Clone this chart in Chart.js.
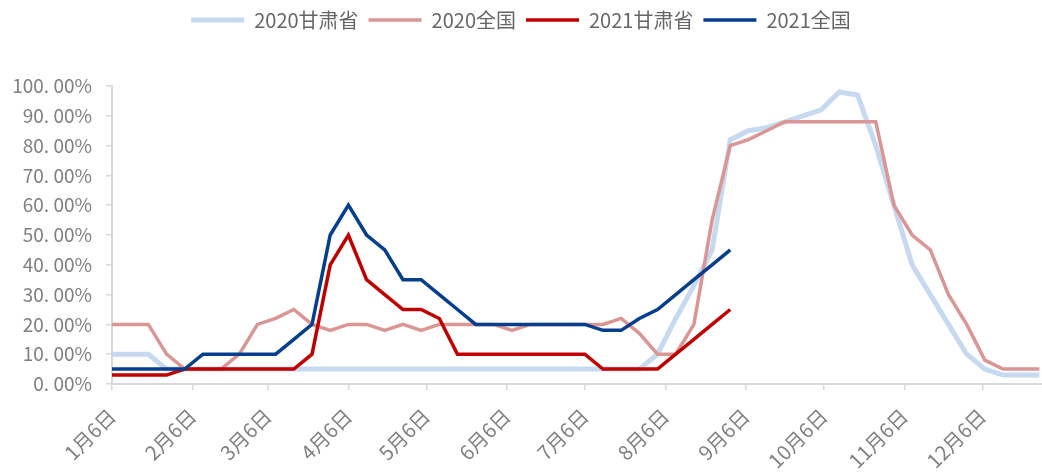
<!DOCTYPE html>
<html>
<head>
<meta charset="utf-8">
<script src="https://cdn.jsdelivr.net/npm/chart.js@4.4.1/dist/chart.umd.min.js"></script>
<style>
  html, body { margin: 0; padding: 0; background: #fff; }
  #wrap { width: 1042px; height: 476px; position: relative; }
</style>
</head>
<body>
<div id="wrap"><canvas id="c"></canvas></div>
<script>
// weekly data, week 0 = 1月6日, one point every 7 days
var seriesNames = ['2020甘肃省', '2020全国', '2021甘肃省', '2021全国'];

var gansu2020 = [10, 10, 10, 5, 5, 5, 5, 5, 5, 5, 5, 5, 5, 5, 5, 5, 5, 5, 5, 5,
  5, 5, 5, 5, 5, 5, 5, 5, 5, 5, 10, 22, 33, 45, 82, 85, 86, 88, 90, 92,
  98, 97, 80, 60, 40, 30, 20, 10, 5, 3, 3, 3];
var national2020 = [20, 20, 20, 10, 5, 5, 5, 10, 20, 22, 25, 20, 18, 20, 20, 18, 20, 18, 20, 20,
  20, 20, 18, 20, 20, 20, 20, 20, 22, 17, 10, 10, 20, 55, 80, 82, 85, 88, 88, 88,
  88, 88, 88, 60, 50, 45, 30, 20, 8, 5, 5, 5];
var gansu2021 = [3, 3, 3, 3, 5, 5, 5, 5, 5, 5, 5, 10, 40, 50, 35, 30, 25, 25, 22, 10,
  10, 10, 10, 10, 10, 10, 10, 5, 5, 5, 5, 10, 15, 20, 25];
var national2021 = [5, 5, 5, 5, 5, 10, 10, 10, 10, 10, 15, 20, 50, 60, 50, 45, 35, 35, 30, 25,
  20, 20, 20, 20, 20, 20, 20, 18, 18, 22, 25, 30, 35, 40, 45];

// month ticks (days after 1月6日)
var tickDays = [0, 31, 60, 91, 121, 152, 182, 213, 244, 274, 305, 335];
var tickLabels = ['1月6日', '2月6日', '3月6日', '4月6日', '5月6日', '6月6日',
  '7月6日', '8月6日', '9月6日', '10月6日', '11月6日', '12月6日'];

var weekDays = gansu2020.map(function(_, i) { return i * 7; });

var fontFamily = '"Noto Sans CJK SC", "Noto Sans", sans-serif';

//--------------- legend height so the plot starts at 100% line ---------------//
var legendGap = {
  id: 'legendGap',
  beforeInit: function(chart) {
    var fit = chart.legend.fit;
    chart.legend.fit = function() {
      fit.bind(chart.legend)();
      this.height = 86;
    };
  }
};

function ds(label, data, color, width, order) {
  return {
    label: label,
    data: data,
    borderColor: color,
    backgroundColor: color,
    borderWidth: width,
    pointRadius: 0,
    pointHoverRadius: 0,
    tension: 0,
    fill: false,
    order: order
  };
}

var chart = new Chart(document.getElementById('c'), {
  type: 'line',
  data: {
    labels: weekDays,
    datasets: [
      ds(seriesNames[0], gansu2020, '#c6d9f1', 5, 4),
      ds(seriesNames[1], national2020, '#da9694', 3.5, 3),
      ds(seriesNames[2], gansu2021, '#c00000', 3.5, 2),
      ds(seriesNames[3], national2021, '#053e8c', 3.5, 1)
    ]
  },
  options: {
    responsive: true,
    maintainAspectRatio: false,
    animation: false,
    layout: { padding: 0 },
    plugins: {
      tooltip: { enabled: false },
      legend: {
        position: 'top',
        labels: {
          usePointStyle: true,
          pointStyle: 'line',
          pointStyleWidth: 53,
          boxHeight: 20,
          padding: 10,
          color: '#666666',
          font: { family: fontFamily, size: 20 },
          sort: function(a, b) { return a.datasetIndex - b.datasetIndex; }
        }
      }
    },
    scales: {
      x: {
        type: 'linear',
        min: 0,
        max: 358,
        afterBuildTicks: function(scale) {
          scale.ticks = tickDays.map(function(d) { return { value: d }; });
        },
        afterFit: function(scale) { scale.height = 92; },
        grid: { drawOnChartArea: false, drawTicks: true, tickLength: 6, color: '#d9d9d9', lineWidth: 1.5 },
        border: { display: true, color: '#d9d9d9', width: 2 },
        ticks: {
          autoSkip: false,
          minRotation: 45,
          maxRotation: 45,
          padding: 14,
          color: '#808080',
          font: { family: fontFamily, size: 20 },
          callback: function(value, index) { return tickLabels[index]; }
        }
      },
      y: {
        min: 0,
        max: 100,
        afterFit: function(scale) { scale.width = 112; },
        grid: { drawOnChartArea: false, drawTicks: true, tickLength: 6, color: '#d9d9d9', lineWidth: 1.5 },
        border: { display: true, color: '#d9d9d9', width: 2 },
        ticks: {
          stepSize: 10,
          padding: 14,
          color: '#808080',
          font: { family: fontFamily, size: 19 },
          callback: function(v) { return v.toFixed(2).replace('.', '. ') + '%'; }
        }
      }
    }
  },
  plugins: [legendGap]
});
</script>
</body>
</html>
